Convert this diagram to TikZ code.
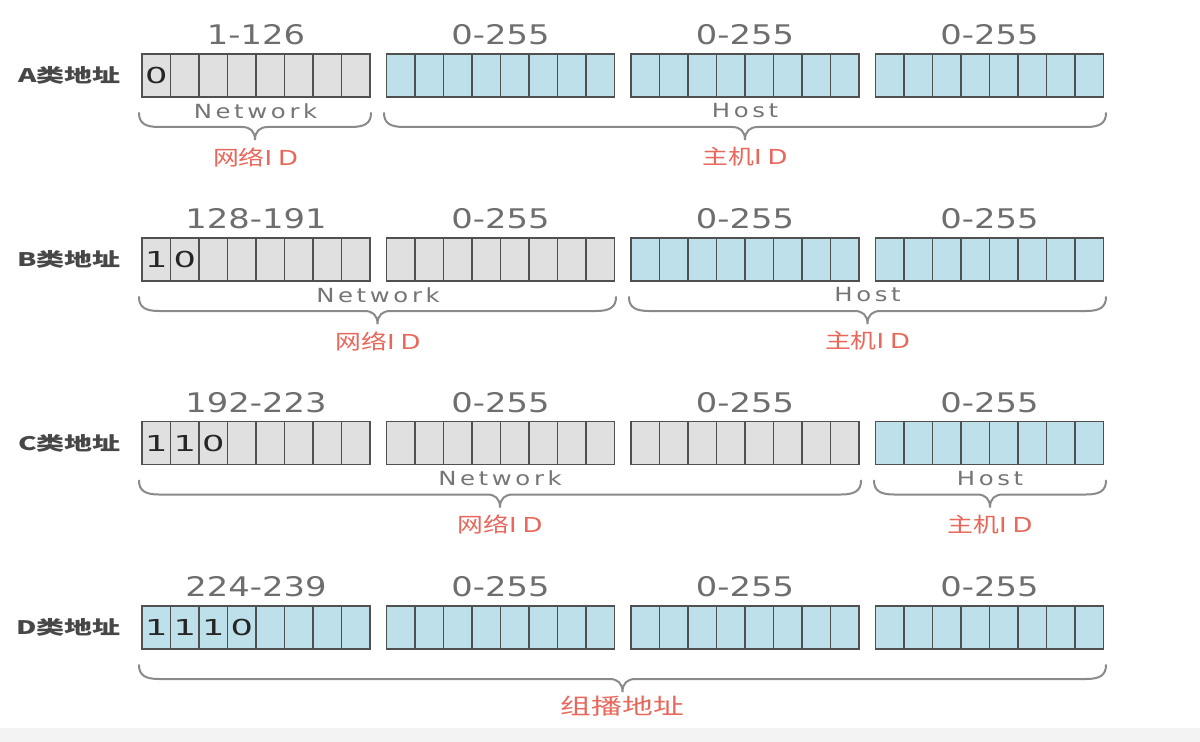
\documentclass[tikz,border=0pt]{standalone}
\usepackage{graphicx}
\usepackage{fontspec}
\newfontfamily\cjkf{Noto Sans CJK SC}
\newfontfamily\latf{DejaVu Sans}
\newfontfamily\latN[LetterSpace=15]{DejaVu Sans}
\newfontfamily\latID[LetterSpace=22]{DejaVu Sans}
\definecolor{netgray}{HTML}{E0E0E0}
\definecolor{hostblue}{HTML}{BEE0EA}
\definecolor{cellline}{HTML}{505050}
\definecolor{rangegray}{HTML}{6E6E6E}
\definecolor{partgray}{HTML}{757575}
\definecolor{bracegray}{HTML}{8A8A8A}
\definecolor{idred}{HTML}{E8675B}
\definecolor{classgray}{HTML}{474747}
\definecolor{bitblack}{HTML}{262626}
\definecolor{stripgray}{HTML}{F3F3F3}
\newcommand\wide[2][1.25]{\scalebox{#1}[1]{#2}}
\newcommand\ipbrace[3]{%
  \pgfmathsetmacro\brmid{(#1+#2)/2}%
  \draw[bracestyle] (#1,#3) .. controls (#1,#3+10) and (#1+6,#3+14) .. (#1+20,#3+14)
    -- (\brmid-13,#3+14) .. controls (\brmid-5,#3+14) and (\brmid,#3+18) .. (\brmid,#3+27)
    .. controls (\brmid,#3+18) and (\brmid+5,#3+14) .. (\brmid+13,#3+14)
    -- (#2-20,#3+14) .. controls (#2-6,#3+14) and (#2,#3+10) .. (#2,#3);}
\tikzset{
  cell/.style={draw=cellline, line width=0.95pt, minimum width=21.375pt, minimum height=32.25pt, inner sep=0pt, outer sep=0pt},
  netcell/.style={cell, fill=netgray},
  hostcell/.style={cell, fill=hostblue},
  rangelbl/.style={text=rangegray, font=\latf\fontsize{20.25}{22}\selectfont, inner sep=0pt},
  partlbl/.style={text=partgray, font=\latN\fontsize{14.6}{16}\selectfont, inner sep=0pt},
  classlbl/.style={text=classgray, font=\cjkf\bfseries\fontsize{14}{16}\selectfont, inner sep=0pt, anchor=east},
  bitlbl/.style={text=bitblack, font=\latf\fontsize{16.5}{18}\selectfont, inner sep=0pt},
  idlbl/.style={text=idred, font=\fontsize{15.5}{18}\selectfont, inner sep=0pt},
  bracestyle/.style={draw=bracegray, line width=1.5pt, line cap=round}
}
\begin{document}
\begin{tikzpicture}[x=0.75pt,y=-0.75pt]
\useasboundingbox (0,0) rectangle (1200,742);
\fill[white] (0,0) rectangle (1200,742);
\fill[stripgray] (0,728) rectangle (1200,742);
% cells
\foreach \r/\ty/\ng in {A/54/1, B/238/2, C/421.5/3, D/606/0} {
  \foreach \b in {0,...,3} {
    \foreach \c in {0,...,7} {
      \pgfmathsetmacro\cx{142+244.5*\b+28.5*\c+14.25}
      \ifnum\b<\ng
        \node[netcell] (\r\b c\c) at (\cx,\ty+21.5) {};
      \else
        \node[hostcell] (\r\b c\c) at (\cx,\ty+21.5) {};
      \fi
    }
  }
}
% class labels
\node[classlbl] (labA) at (121,75.5) {\wide[1.5]{A类地址}};
\node[classlbl] (labB) at (121,259.5) {\wide[1.5]{B类地址}};
\node[classlbl] (labC) at (121,443) {\wide[1.5]{C类地址}};
\node[classlbl] (labD) at (121,627.5) {\wide[1.5]{D类地址}};
% range labels
\foreach \r/\ty/\first in {A/54/1-126, B/238/128-191, C/421.5/192-223, D/606/224-239} {
  \node[rangelbl] (\r r0) at (256,\ty-19) {\wide{\first}};
  \foreach \b in {1,2,3} {
    \pgfmathsetmacro\bx{142+244.5*\b+114}
    \node[rangelbl] (\r r\b) at (\bx,\ty-19) {\wide{0-255}};
  }
}
% bits
\node[bitlbl] (Abit0) at (A0c0.center) {\wide[1.6]{0}};
\node[bitlbl] (Bbit0) at (B0c0.center) {\wide[1.6]{1}};
\node[bitlbl] (Bbit1) at (B0c1.center) {\wide[1.6]{0}};
\node[bitlbl] (Cbit0) at (C0c0.center) {\wide[1.6]{1}};
\node[bitlbl] (Cbit1) at (C0c1.center) {\wide[1.6]{1}};
\node[bitlbl] (Cbit2) at (C0c2.center) {\wide[1.6]{0}};
\node[bitlbl] (Dbit0) at (D0c0.center) {\wide[1.6]{1}};
\node[bitlbl] (Dbit1) at (D0c1.center) {\wide[1.6]{1}};
\node[bitlbl] (Dbit2) at (D0c2.center) {\wide[1.6]{1}};
\node[bitlbl] (Dbit3) at (D0c3.center) {\wide[1.6]{0}};
% row A
\node[partlbl] (Anet) at (255.5,111) {\wide{Network}};
\node[partlbl] (Ahost) at (745,111) {\wide{Host}};
\ipbrace{139}{371}{113}
\ipbrace{384}{1106}{113}
\node[idlbl] (Anid) at (255.5,157) {\wide{\cjkf 网络\latID ID}};
\node[idlbl] (Ahid) at (745,157) {\wide{\cjkf 主机\latID ID}};
% row B
\node[partlbl] (Bnet) at (378,295) {\wide{Network}};
\node[partlbl] (Bhost) at (867.5,295) {\wide{Host}};
\ipbrace{139}{616}{297}
\ipbrace{629}{1106}{297}
\node[idlbl] (Bnid) at (378,341) {\wide{\cjkf 网络\latID ID}};
\node[idlbl] (Bhid) at (867.5,341) {\wide{\cjkf 主机\latID ID}};
% row C
\node[partlbl] (Cnet) at (500,478.5) {\wide{Network}};
\node[partlbl] (Chost) at (990,478.5) {\wide{Host}};
\ipbrace{139}{861}{480.5}
\ipbrace{874}{1106}{480.5}
\node[idlbl] (Cnid) at (500,524.5) {\wide{\cjkf 网络\latID ID}};
\node[idlbl] (Chid) at (990,524.5) {\wide{\cjkf 主机\latID ID}};
% row D
\ipbrace{139}{1106}{665}
\node[idlbl, font=\cjkf\fontsize{16.5}{19}\selectfont] (Dmc) at (622.5,706) {\wide[1.4]{组播地址}};
\end{tikzpicture}
\end{document}
